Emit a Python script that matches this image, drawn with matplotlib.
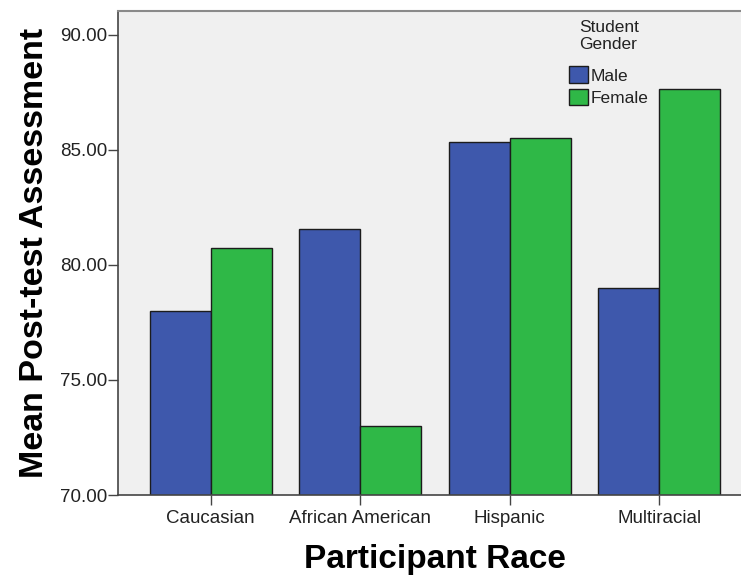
import matplotlib
matplotlib.use("Agg")
import matplotlib.pyplot as plt
import numpy as np
from matplotlib.ticker import FormatStrFormatter

# Dane
races = ["Caucasian", "African American", "Hispanic", "Multiracial"]
genders = ["Male", "Female"]
male_means = [78.02, 81.57, 85.36, 79.00]
female_means = [80.72, 73.00, 85.53, 87.66]
y_ticks = [70, 75, 80, 85, 90]

BLUE = "#3e58ac"
GREEN = "#2fb847"
BG = "#f0f0f0"

plt.rcParams['font.family'] = ['Liberation Sans', 'DejaVu Sans']

fig = plt.figure(figsize=(7.41, 5.78), dpi=100)
# Os wychodzi poza prawa krawedz obrazka, jak w oryginale
ax = fig.add_axes([118 / 741, 83 / 578, 634 / 741, 484 / 578])
ax.set_facecolor(BG)

x = np.arange(len(races))
w = 0.408
ax.bar(x - w / 2, male_means, w, color=BLUE, edgecolor="#1c1c1c",
       linewidth=1.0, label=genders[0], zorder=2)
ax.bar(x + w / 2, female_means, w, color=GREEN, edgecolor="#1c1c1c",
       linewidth=1.0, label=genders[1], zorder=2)

ax.set_xlim(-0.62, 3.62)
ax.set_ylim(70, 91.04)
ax.set_yticks(y_ticks)
ax.yaxis.set_major_formatter(FormatStrFormatter('%.2f'))
ax.set_xticks(x)
ax.set_xticklabels(races)

ax.tick_params(axis='both', direction='out', length=7, width=1,
               color="#444444", labelcolor="#222222", labelsize=13.5)
ax.tick_params(axis='x', pad=4)
ax.tick_params(axis='y', pad=1)

for side in ['left', 'bottom']:
    ax.spines[side].set_color("#444444")
    ax.spines[side].set_linewidth(1.2)
ax.spines['top'].set_color("#8a8a8a")
ax.spines['top'].set_linewidth(1.5)
ax.spines['right'].set_visible(False)

ax.set_ylabel("Mean Post-test Assessment", fontsize=24.5, fontweight='bold')
ax.yaxis.set_label_coords(-0.107, 0.5)
ax.set_xlabel("Participant Race", fontsize=24, fontweight='bold')
ax.xaxis.set_label_coords(0.5, -0.101)

leg = ax.legend(title="Student\nGender", loc='upper left',
                bbox_to_anchor=(569 / 741, 1 - 20 / 578),
                bbox_transform=fig.transFigure, frameon=False,
                fontsize=12.5, title_fontsize=12.5, handlelength=1.1,
                handleheight=1.1, handletextpad=0.15, labelspacing=0.3,
                borderpad=0, borderaxespad=0)
leg._legend_box.sep = 10
leg.get_title().set_color("#222222")
for t in leg.get_texts():
    t.set_color("#222222")

fig.savefig("out.png", dpi=100, facecolor="white")
